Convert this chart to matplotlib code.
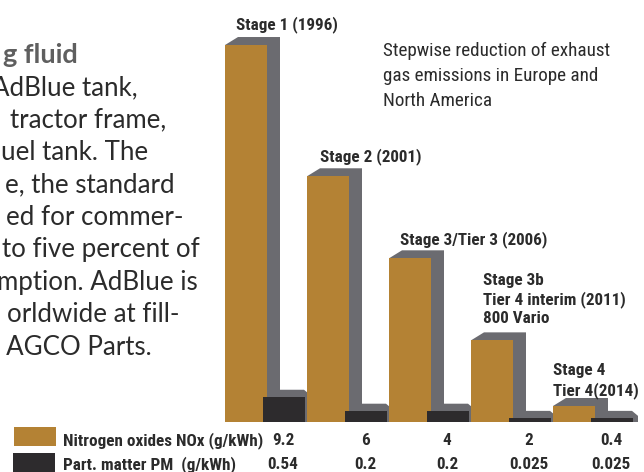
import numpy as np
import matplotlib
matplotlib.use("Agg")
import matplotlib.pyplot as plt
from matplotlib.patches import Polygon, Rectangle
from matplotlib.transforms import blended_transform_factory
from matplotlib import font_manager

# ---------------- data ----------------
stages = ["Stage 1 (1996)", "Stage 2 (2001)", "Stage 3/Tier 3 (2006)",
          "Stage 3b\nTier 4 interim (2011)\n800 Vario", "Stage 4\nTier 4(2014)"]
nox = [9.2, 6, 4, 2, 0.4]
pm = [0.54, 0.2, 0.2, 0.025, 0.025]
nox_labels = ["9.2", "6", "4", "2", "0.4"]
pm_labels = ["0.54", "0.2", "0.2", "0.025", "0.025"]
series_names = ["Nitrogen oxides NOx (g/kWh)", "Part. matter PM  (g/kWh)"]
title = "Stepwise reduction of exhaust\ngas emissions in Europe and\nNorth America"
para_head = "g fluid"
para_lines = ["AdBlue tank,", "tractor frame,", "uel tank. The", "e, the standard",
              "ed for commer-", "to five percent of", "mption. AdBlue is",
              "orldwide at fill-", "n AGCO Parts."]

# ---------------- styling ----------------
NOX_C = "#b48234"
PM_C = "#2d2b2d"
SH_C = "#6b6b70"
TXT_C = "#2b2b2b"

names = {f.name for f in font_manager.fontManager.ttflist}
def pick(cands):
    for c in cands:
        if c in names:
            return c
    return "DejaVu Sans"
COND = pick(["Liberation Sans Narrow", "Roboto Condensed", "DejaVu Sans"])
BODY = pick(["Lato", "Open Sans", "Noto Sans", "DejaVu Sans"])

W, H = 644, 472
fig = plt.figure(figsize=(W / 100, H / 100), dpi=100)
fig.patch.set_facecolor("white")

base_px = 422.4      # baseline, pixels from top
k = 41.02            # pixels per g/kWh
step = 82.0          # pixels between stages
x0 = 246.0           # centre of first NOx bar (px)

ax = fig.add_axes([0, (H - base_px) / H, 1, base_px / H])
ax.set_xlim(-x0 / step, (W - x0) / step)
ax.set_ylim(0, base_px / k)
ax.axis("off")

def dx(p):
    return p / step
def dy(p):
    return p / k

idx = np.arange(len(nox))
nox_w = dx(42)
pm_off = dx(37)
edge_px = 3.5
pm_w = dx(42 - 2 * edge_px)

# NOx extrusion shadows
for i, v in enumerate(nox):
    L, R = i - nox_w / 2, i + nox_w / 2
    ax.add_patch(Polygon([(L, v), (L + dx(13), v + dy(8)), (R + dx(13), v + dy(8)),
                          (R + dx(13), 0), (R, 0)], closed=True,
                         facecolor=SH_C, edgecolor="none", zorder=1))
# PM extrusion shadows
for i, v in enumerate(pm):
    c = i + pm_off
    L, R = c - dx(21), c + dx(21)
    top = v + dy(edge_px + 7)
    ax.add_patch(Polygon([(L, 0), (L, top), (R, top), (R + dx(6), top - dy(5)),
                          (R + dx(6), 0)], closed=True,
                         facecolor=SH_C, edgecolor="none", zorder=1.5))

ax.bar(idx, nox, width=nox_w, color=NOX_C, edgecolor="none", zorder=2)
ax.bar(idx + pm_off, pm, width=pm_w, color=PM_C, edgecolor=PM_C,
       linewidth=2 * edge_px * 0.72, joinstyle="miter", zorder=4)

LBL_FS = 12.3
# stage labels (offsets in px from the bar's top-left corner to last-line baseline)
label_off_px = [(11, 16), (13, 15), (11, 14), (12, 17), (0, 11)]
for i, (s, v) in enumerate(zip(stages, nox)):
    ox, oy = label_off_px[i]
    ax.annotate(s, xy=(i - nox_w / 2, v), xytext=(ox * 0.72, oy * 0.72),
                textcoords="offset points", ha="left", va="baseline",
                fontsize=LBL_FS, fontweight="bold", family=COND, color=TXT_C,
                annotation_clip=False, linespacing=1.25)

# title text (anchored at baseline of last line)
fig.text(383 / W, (H - 106) / H, title, ha="left", va="baseline",
         fontsize=13.8, family=COND, color=TXT_C, linespacing=1.5)

# value table
trans = blended_transform_factory(ax.transData, fig.transFigure)
row_base = [445, 469]
for r, labels in enumerate([nox_labels, pm_labels]):
    for i, t in enumerate(labels):
        ax.text(i + pm_off, (H - row_base[r]) / H, t, transform=trans,
                ha="center", va="baseline", fontsize=LBL_FS, fontweight="bold",
                family=COND, color=TXT_C, clip_on=False)

# legend swatches + names
sw = [(14, 427), (13, 453)]
for r, (name, col) in enumerate(zip(series_names, [NOX_C, PM_C])):
    x, y = sw[r]
    fig.patches.append(Rectangle((x / W, (H - y - 19) / H), 42 / W, 19 / H,
                                 transform=fig.transFigure, facecolor=col,
                                 edgecolor="none"))
    fig.text(63 / W, (H - row_base[r]) / H, name, ha="left", va="baseline",
             fontsize=LBL_FS, fontweight="bold", family=COND, color=TXT_C)

# cropped paragraph on the left
para_right = [138, 166, 148, 175, 183, 200, 198, 180, 152]
fig.text(78 / W, (H - 63) / H, para_head, ha="right", va="baseline",
         fontsize=19.5, fontweight="bold", family=BODY, color="#5f5f5f")
for j, (line, rx) in enumerate(zip(para_lines, para_right)):
    fig.text(rx / W, (H - (63 + 32.4 * (j + 1))) / H, line, ha="right",
             va="baseline", fontsize=18.6, family=BODY, color=TXT_C)

fig.savefig("out.png", dpi=100, facecolor="white")
